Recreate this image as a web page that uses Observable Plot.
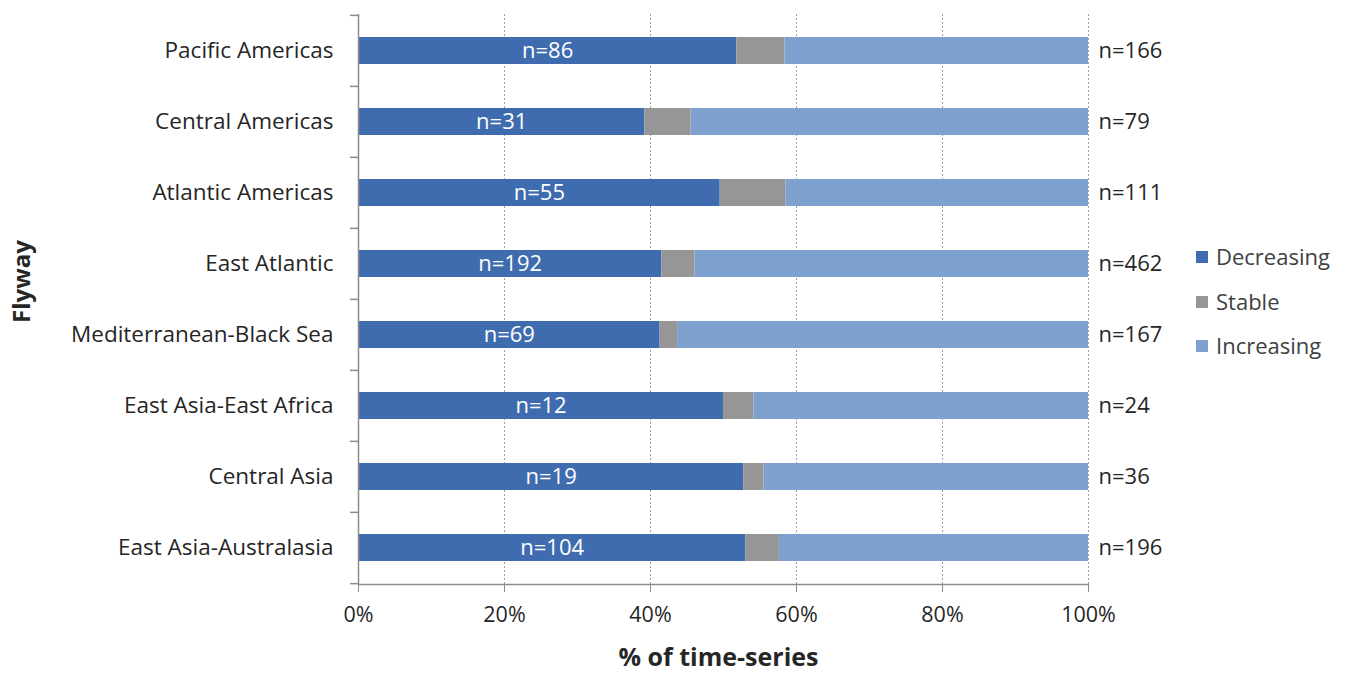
<!DOCTYPE html>
<html>
<head>
<meta charset="utf-8">
<script src="https://cdn.jsdelivr.net/npm/d3@7"></script>
<script src="https://cdn.jsdelivr.net/npm/@observablehq/plot@0.6"></script>
<style>
  body { margin: 0; background: #fff; font-family: "Open Sans", sans-serif; }
  #wrap { position: relative; width: 1347px; height: 679px; }
  #legend { position: absolute; left: 1196px; top: 234px; font-size: 22px; color: #404040; line-height: 44.5px; }
  #legend .sw { display: inline-block; width: 12px; height: 12px; margin-right: 8px; vertical-align: 2px; }
</style>
</head>
<body>
<div id="wrap">
  <div id="chart"></div>
  <div id="legend"></div>
</div>
<script>
const flyways = ["Pacific Americas", "Central Americas", "Atlantic Americas", "East Atlantic",
  "Mediterranean-Black Sea", "East Asia-East Africa", "Central Asia", "East Asia-Australasia"];
const trends = ["Decreasing", "Stable", "Increasing"];
const colors = ["#3F6CAF", "#969696", "#7FA1CF"];
const decreasing = [86, 31, 55, 192, 69, 12, 19, 104];
const stable = [11, 5, 10, 21, 4, 1, 1, 9];
const increasing = [69, 43, 46, 249, 94, 11, 16, 83];
const totals = [166, 79, 111, 462, 167, 24, 36, 196];
const xTicks = [0, 0.2, 0.4, 0.6, 0.8, 1];

const series = [decreasing, stable, increasing];
const rows = [];
flyways.forEach((f, i) => trends.forEach((t, j) => rows.push({flyway: f, trend: t, count: series[j][i]})));
const totalRows = flyways.map((f, i) => ({flyway: f, total: totals[i]}));

const step = 570 / 8;
const font = "Open Sans, sans-serif";

const stackOpts = {x: "count", y: "flyway", z: "trend", order: trends, offset: "normalize"};

const chart = Plot.plot({
  width: 1347,
  height: 679,
  marginLeft: 358,
  marginRight: 259,
  marginTop: 14,
  marginBottom: 95,
  style: {fontFamily: font, background: "#fff"},
  x: {domain: [0, 1]},
  y: {domain: flyways, paddingInner: 0.62, paddingOuter: 0.31},
  color: {domain: trends, range: colors},
  marks: [
    Plot.gridX(xTicks.slice(1), {stroke: "#a0a0a0", strokeOpacity: 1, strokeDasharray: "2,2", strokeWidth: 1}),
    Plot.barX(rows, Plot.stackX({...stackOpts, fill: "trend"})),
    Plot.text(rows, Plot.stackX({...stackOpts, text: d => d.trend === "Decreasing" ? "n=" + d.count : null,
      fill: "white", fontSize: 22})),
    Plot.text(totalRows, {x: 1, y: "flyway", text: d => "n=" + d.total, textAnchor: "start", dx: 10,
      fontSize: 22, fill: "#262626"}),
    Plot.ruleX([0], {stroke: "#8c8c8c", strokeWidth: 1.5}),
    Plot.ruleY(flyways, {y: d => d, x1: -0.011, x2: 0, dy: -step / 2, stroke: "#8c8c8c", strokeWidth: 1.5}),
    Plot.ruleY(flyways.slice(-1), {y: d => d, x1: -0.011, x2: 0, dy: step / 2, stroke: "#8c8c8c", strokeWidth: 1.5}),
    Plot.frame({anchor: "bottom", stroke: "#8c8c8c", strokeWidth: 1.5}),
    Plot.axisX({ticks: xTicks, tickFormat: d3.format(".0%"), tickSize: 8, tickPadding: 14, fontSize: 21.5,
      stroke: "#8c8c8c", color: "#262626", label: null}),
    Plot.axisY({tickSize: 0, tickPadding: 25, fontSize: 22.5, color: "#262626", label: null}),
    Plot.text(["Flyway"], {frameAnchor: "left", textAnchor: "middle", dx: -336, dy: -18, rotate: -90,
      fontSize: 24, fontWeight: "bold", fill: "#262626"}),
    Plot.text(["% of time-series"], {frameAnchor: "bottom", dy: 81, dx: -5, fontSize: 25, fontWeight: "bold", fill: "#262626"})
  ]
});
document.getElementById("chart").appendChild(chart);

const legend = document.getElementById("legend");
trends.forEach((t, i) => {
  const row = document.createElement("div");
  row.innerHTML = `<span class="sw" style="background:${colors[i]}"></span>${t}`;
  legend.appendChild(row);
});
</script>
</body>
</html>
